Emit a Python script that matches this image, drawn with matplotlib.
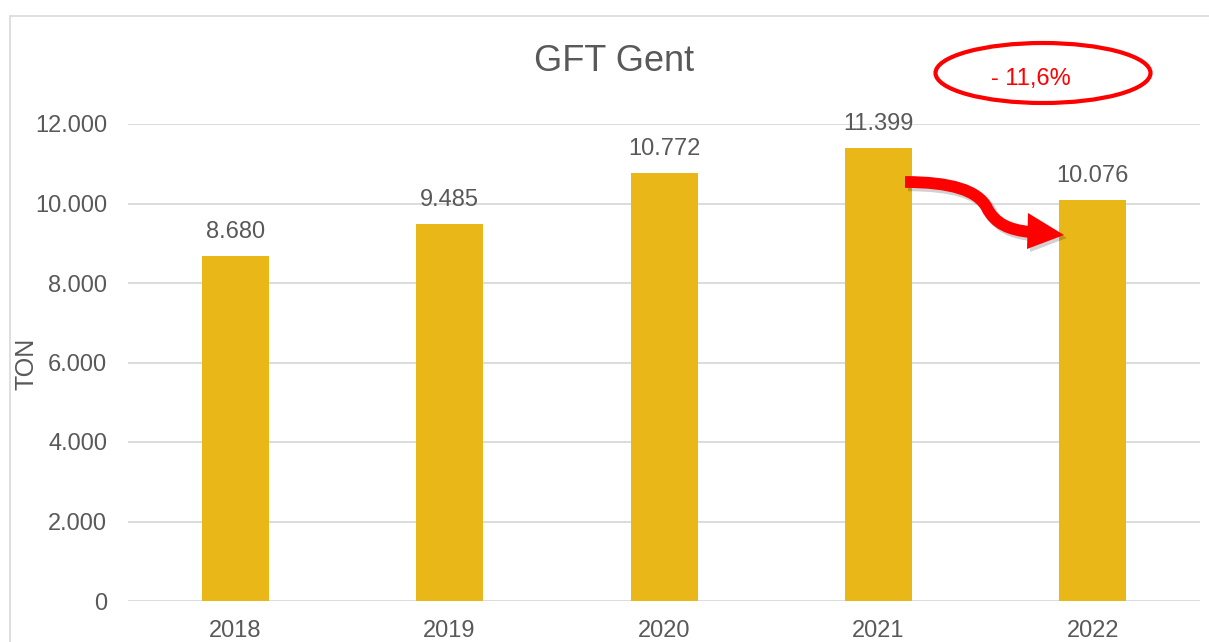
import matplotlib
matplotlib.use("Agg")
import matplotlib.pyplot as plt
from matplotlib.patches import Ellipse, Rectangle, Polygon, PathPatch
from matplotlib.path import Path
from matplotlib.transforms import IdentityTransform

plt.rcParams['font.family'] = ['Liberation Sans', 'DejaVu Sans']

years = ["2018", "2019", "2020", "2021", "2022"]
tonnage = [8680, 9485, 10772, 11399, 10076]
value_labels = ["8.680", "9.485", "10.772", "11.399", "10.076"]
yticks = [0, 2000, 4000, 6000, 8000, 10000, 12000]
ytick_labels = ["0", "2.000", "4.000", "6.000", "8.000", "10.000", "12.000"]
title = "GFT Gent"
ylabel = "TON"
change_label = "- 11,6%"

TEXT = "#595959"
GRID = "#D9D9D9"
BAR = "#E9B818"
RED = "#FF0000"

W, H = 1209, 642
fig = plt.figure(figsize=(W / 100, H / 100), dpi=100)
fig.patch.set_facecolor("white")

# outer chart border
fig.patches.append(Rectangle((10 / W, -0.05), 1.2, (642 - 16) / H + 0.05,
                             transform=fig.transFigure, fill=False,
                             edgecolor=GRID, linewidth=1.2))

ax = fig.add_axes([128 / W, (H - 601) / H, (1200 - 128) / W, (601 - 124) / H])
x = list(range(len(years)))
ax.bar(x, tonnage, width=0.3125, color=BAR, zorder=2)
ax.set_xlim(-0.5, len(years) - 0.5)
ax.set_ylim(0, 12000)
ax.set_yticks(yticks)
ax.set_yticklabels(ytick_labels)
ax.set_xticks(x)
ax.set_xticklabels(years)
ax.tick_params(axis='both', length=0, labelsize=17, colors=TEXT)
ax.tick_params(axis='y', pad=15)
ax.tick_params(axis='x', pad=14)
for s in ax.spines.values():
    s.set_visible(False)
ax.grid(axis='y', color=GRID, linewidth=1.3, zorder=0)
ax.set_axisbelow(True)

for xi, v, lab in zip(x, tonnage, value_labels):
    ax.annotate(lab, (xi, v), xytext=(0, 13), textcoords='offset points',
                ha='center', va='baseline', fontsize=17, color=TEXT,
                annotation_clip=False)

fig.text(27 / W, (H - 364) / H, ylabel, rotation=90, ha='center', va='center',
         fontsize=18, color=TEXT)

fig.text(614 / W, (H - 71) / H, title, ha='center', va='baseline',
         fontsize=26, color=TEXT)

# ellipse with percentage change
fig.patches.append(Ellipse((1043 / W, (H - 73) / H), 215 / W, 60 / H,
                           transform=fig.transFigure, fill=False,
                           edgecolor=RED, linewidth=3))
fig.text(1031 / W, (H - 85) / H, change_label, ha='center', va='baseline',
         fontsize=17, color=RED)


# curved arrow from 2021 to 2022 (figure pixel positions)
def px(xp, yp):
    return (xp, H - yp)


ident = IdentityTransform()

shaft = [px(905, 182), px(950, 182), px(978, 190), px(987, 208),
         px(995, 224), px(1010, 230), px(1030, 232)]
codes = [Path.MOVETO, Path.CURVE4, Path.CURVE4, Path.CURVE4,
         Path.CURVE4, Path.CURVE4, Path.CURVE4]
head = [px(1064, 235), px(1028, 213), px(1027, 249)]

# shadow
sh = [(a + 3, b - 3) for a, b in shaft]
fig.patches.append(PathPatch(Path(sh, codes), transform=ident, fill=False,
                             edgecolor="#000000", alpha=0.18, linewidth=9,
                             capstyle='butt'))
fig.patches.append(Polygon([(a + 3, b - 3) for a, b in head], closed=True,
                           transform=ident, facecolor="#000000", alpha=0.18,
                           edgecolor='none'))
fig.patches.append(PathPatch(Path(shaft, codes), transform=ident, fill=False,
                             edgecolor=RED, linewidth=8.5, capstyle='butt'))
fig.patches.append(Polygon(head, closed=True, transform=ident,
                           facecolor=RED, edgecolor='none'))

fig.savefig("out.png", dpi=100)
